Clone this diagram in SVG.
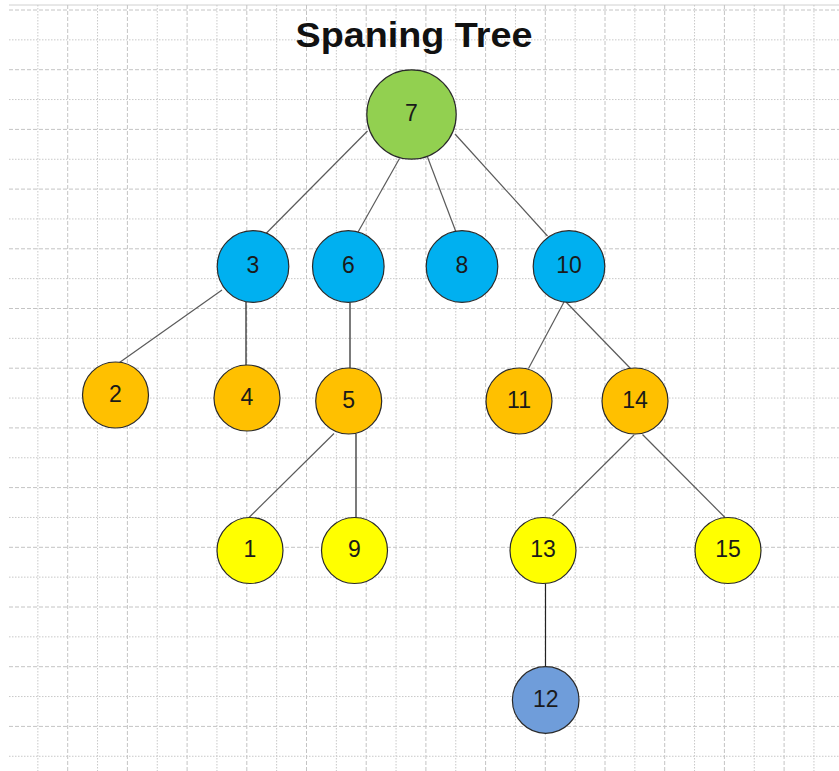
<svg xmlns="http://www.w3.org/2000/svg" width="839" height="771" viewBox="0 0 839 771">
<style>
.gd{stroke:#c4c4c4;stroke-width:1;fill:none;stroke-dasharray:4 2}
.gt{stroke:#c8c8c8;stroke-width:1;fill:none;stroke-dasharray:1.5 1.5}
.edge{stroke:#5a5a5a;stroke-width:1.2;fill:none}
.edge.v{stroke:#222}
.node circle{stroke:#2a2a2a;stroke-width:1.2}
.node text{font-family:"Liberation Sans",Arial,sans-serif;font-size:23px;fill:#1a1a1a;text-anchor:middle;dominant-baseline:central}
.green{fill:#92D050}.blue{fill:#00B0F0}.orange{fill:#FFC000}.yellow{fill:#FFFF00}.steel{fill:#6F9DDA}
</style>
<rect width="839" height="771" fill="#ffffff"/>
<g id="grid">
<path d="M9 5H839" stroke="#d0d0d0" stroke-width="1"/>
<path class="gd" d="M9 10H839M9 69.7H839M9 129.4H839M9 189.1H839M9 248.8H839M9 308.5H839M9 368.2H839M9 427.9H839M9 487.6H839M9 547.3H839M9 607H839M9 666.7H839M9 726.4H839"/>
<path class="gt" d="M9 39.85H839M9 99.55H839M9 159.25H839M9 218.95H839M9 278.65H839M9 338.35H839M9 398.05H839M9 457.75H839M9 517.45H839M9 577.15H839M9 636.85H839M9 696.55H839M9 756.25H839"/>
<path class="gd" d="M67.7 5V771M127.4 5V771M187.1 5V771M246.8 5V771M306.5 5V771M366.2 5V771M425.9 5V771M485.6 5V771M545.3 5V771M605 5V771M664.7 5V771M724.4 5V771M784.1 5V771"/>
<path class="gt" d="M37.85 5V771M97.55 5V771M157.25 5V771M216.95 5V771M276.65 5V771M336.35 5V771M396.05 5V771M455.75 5V771M515.45 5V771M575.15 5V771M634.85 5V771M694.55 5V771M754.25 5V771M813.95 5V771"/>
</g>
<text id="title" x="414" y="47" font-family="Liberation Sans,Arial,sans-serif" font-size="35" font-weight="bold" text-anchor="middle" fill="#111" textLength="237" lengthAdjust="spacingAndGlyphs">Spaning Tree</text>
<g id="connectors">
<line class="edge" x1="367.5" y1="131" x2="266" y2="233.5"/>
<line class="edge" x1="399.5" y1="158.5" x2="357.5" y2="233"/>
<line class="edge" x1="427.5" y1="157" x2="456" y2="232"/>
<line class="edge" x1="455" y1="134" x2="547.5" y2="236"/>
<line class="edge" x1="222" y1="290" x2="119.5" y2="362.5"/>
<line class="edge v" x1="246" y1="302" x2="246" y2="365"/>
<line class="edge v" x1="350" y1="302.5" x2="350" y2="368"/>
<line class="edge" x1="334" y1="433.5" x2="249" y2="517.5"/>
<line class="edge v" x1="356" y1="434" x2="356" y2="518"/>
<line class="edge" x1="564" y1="302" x2="528.5" y2="368.5"/>
<line class="edge" x1="566" y1="302" x2="630.5" y2="368.5"/>
<line class="edge" x1="634" y1="435" x2="552.5" y2="516"/>
<line class="edge" x1="642.5" y1="434.5" x2="725" y2="517.5"/>
<line class="edge v" x1="545.5" y1="583.5" x2="545.5" y2="667"/>
</g>
<g id="n7" class="node"><circle class="green" cx="411.5" cy="114.5" r="44.7"/><text x="411.5" y="113">7</text></g>
<g id="n3" class="node"><circle class="blue" cx="253" cy="266.5" r="35.8"/><text x="253" y="265">3</text></g>
<g id="n6" class="node"><circle class="blue" cx="348.3" cy="266.5" r="35.8"/><text x="348.3" y="265">6</text></g>
<g id="n8" class="node"><circle class="blue" cx="462" cy="266.5" r="35.8"/><text x="462" y="265">8</text></g>
<g id="n10" class="node"><circle class="blue" cx="569" cy="266.5" r="35.8"/><text x="569" y="265">10</text></g>
<g id="n2" class="node"><circle class="orange" cx="115.5" cy="395" r="33"/><text x="115.5" y="393.5">2</text></g>
<g id="n4" class="node"><circle class="orange" cx="247" cy="398" r="33"/><text x="247" y="396.5">4</text></g>
<g id="n5" class="node"><circle class="orange" cx="348.7" cy="401" r="33"/><text x="348.7" y="399.5">5</text></g>
<g id="n11" class="node"><circle class="orange" cx="519" cy="401" r="33"/><text x="519" y="399.5">11</text></g>
<g id="n14" class="node"><circle class="orange" cx="635" cy="401" r="33"/><text x="635" y="399.5">14</text></g>
<g id="n1" class="node"><circle class="yellow" cx="250" cy="550.5" r="33"/><text x="250" y="549">1</text></g>
<g id="n9" class="node"><circle class="yellow" cx="354.5" cy="550.5" r="33"/><text x="354.5" y="549">9</text></g>
<g id="n13" class="node"><circle class="yellow" cx="543" cy="550.5" r="33"/><text x="543" y="549">13</text></g>
<g id="n15" class="node"><circle class="yellow" cx="728" cy="550.5" r="33"/><text x="728" y="549">15</text></g>
<g id="n12" class="node"><circle class="steel" cx="545.7" cy="700" r="33.3"/><text x="545.7" y="698.5">12</text></g>
</svg>
